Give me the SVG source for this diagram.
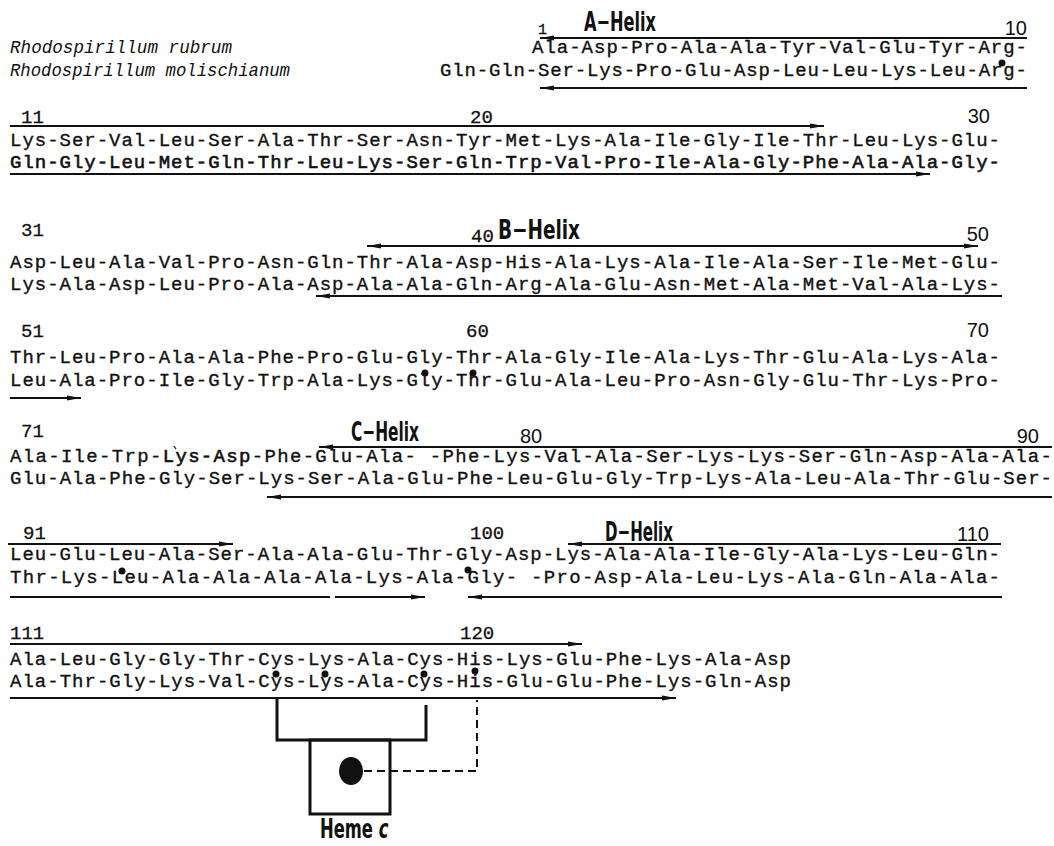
<svg xmlns="http://www.w3.org/2000/svg" width="1054" height="846" viewBox="0 0 1054 846">
<style>
.seq{font-family:"Liberation Mono","DejaVu Sans Mono",monospace;font-size:19px;fill:#111;stroke:#111;stroke-width:0.35}
.sp{font-family:"Liberation Mono","DejaVu Sans Mono",monospace;font-size:18px;font-style:italic;fill:#111}
.num{font-family:"Liberation Mono","DejaVu Sans Mono",monospace;font-size:19px;fill:#111;stroke:#111;stroke-width:0.3}
.num2{font-family:"Liberation Sans",Arial,sans-serif;font-size:20px;fill:#111}
.hx{font-family:"Liberation Sans Narrow","DejaVu Sans Condensed",sans-serif;font-weight:bold;font-size:27px;fill:#111}
.ln{stroke:#111;stroke-width:2;fill:none}
.br{stroke:#111;stroke-width:3;fill:none}
.dash{stroke:#111;stroke-width:2;fill:none;stroke-dasharray:8 5}
.dot{fill:#111}
.hv{stroke-width:0.6}
</style>
<defs>
<marker id="ah" viewBox="0 0 14 6" refX="14" refY="3" markerWidth="14" markerHeight="6" markerUnits="userSpaceOnUse" orient="auto-start-reverse"><path d="M0,0.5 L14,3 L0,5.5 z" fill="#111"/></marker>
</defs>

<g id="labels">
<text class="sp" x="10" y="53" textLength="222" lengthAdjust="spacingAndGlyphs">Rhodospirillum rubrum</text>
<text class="sp" x="10" y="76" textLength="280" lengthAdjust="spacingAndGlyphs">Rhodospirillum molischianum</text>
</g>

<g id="helix-labels">
<text class="hx" x="584" y="31" textLength="72" lengthAdjust="spacingAndGlyphs">A−Helix</text>
<text class="hx" x="498" y="239" textLength="82" lengthAdjust="spacingAndGlyphs">B−Helix</text>
<text class="hx" x="351" y="441" textLength="68" lengthAdjust="spacingAndGlyphs">C−Helix</text>
<text class="hx" x="605" y="541" textLength="68" lengthAdjust="spacingAndGlyphs">D−Helix</text>
</g>

<g id="numbers">
<text class="num" x="538" y="34" style="font-size:15px">1</text>
<text class="num2" x="1027" y="35" text-anchor="end">10</text>
<text class="num" x="21" y="123">11</text>
<text class="num" x="470" y="123">20</text>
<text class="num2" x="990" y="123" text-anchor="end">30</text>
<text class="num" x="21" y="236">31</text>
<text class="num" x="471" y="242">40</text>
<text class="num2" x="989" y="241" text-anchor="end">50</text>
<text class="num" x="21" y="337">51</text>
<text class="num" x="466" y="337">60</text>
<text class="num2" x="989" y="337" text-anchor="end">70</text>
<text class="num" x="21" y="437">71</text>
<text class="num2" x="520" y="443">80</text>
<text class="num2" x="1039" y="443" text-anchor="end">90</text>
<text class="num" x="23" y="539">91</text>
<text class="num" x="470" y="539">100</text>
<text class="num2" x="989" y="541" text-anchor="end">110</text>
<text class="num" x="10" y="639">111</text>
<text class="num" x="460" y="639">120</text>
</g>

<g id="row1">
<text class="seq" x="532" y="53" textLength="495" lengthAdjust="spacing">Ala-Asp-Pro-Ala-Ala-Tyr-Val-Glu-Tyr-Arg-</text>
<text class="seq" x="440" y="76" textLength="587" lengthAdjust="spacing">Gln-Gln-Ser-Lys-Pro-Glu-Asp-Leu-Leu-Lys-Leu-Arg-</text>
<circle class="dot" cx="1002" cy="63" r="3.5"/>
</g>

<g id="row2">
<text class="seq" x="10" y="146" textLength="990" lengthAdjust="spacing">Lys-Ser-Val-Leu-Ser-Ala-Thr-Ser-Asn-Tyr-Met-Lys-Ala-Ile-Gly-Ile-Thr-Leu-Lys-Glu-</text>
<text class="seq hv" x="10" y="168" textLength="990" lengthAdjust="spacing">Gln-Gly-Leu-Met-Gln-Thr-Leu-Lys-Ser-Gln-Trp-Val-Pro-Ile-Ala-Gly-Phe-Ala-Ala-Gly-</text>
</g>

<g id="row3">
<text class="seq" x="10" y="268" textLength="990" lengthAdjust="spacing">Asp-Leu-Ala-Val-Pro-Asn-Gln-Thr-Ala-Asp-His-Ala-Lys-Ala-Ile-Ala-Ser-Ile-Met-Glu-</text>
<text class="seq" x="10" y="290" textLength="990" lengthAdjust="spacing">Lys-Ala-Asp-Leu-Pro-Ala-Asp-Ala-Ala-Gln-Arg-Ala-Glu-Asn-Met-Ala-Met-Val-Ala-Lys-</text>
</g>

<g id="row4">
<text class="seq" x="10" y="363" textLength="990" lengthAdjust="spacing">Thr-Leu-Pro-Ala-Ala-Phe-Pro-Glu-Gly-Thr-Ala-Gly-Ile-Ala-Lys-Thr-Glu-Ala-Lys-Ala-</text>
<text class="seq" x="10" y="386" textLength="990" lengthAdjust="spacing">Leu-Ala-Pro-Ile-Gly-Trp-Ala-Lys-Gly-Thr-Glu-Ala-Leu-Pro-Asn-Gly-Glu-Thr-Lys-Pro-</text>
<circle class="dot" cx="425" cy="373" r="3.5"/>
<circle class="dot" cx="473" cy="373" r="3.5"/>
</g>

<g id="row5">
<text class="seq" x="10" y="462" textLength="1042" lengthAdjust="spacing">Ala-Ile-Trp-<tspan class="hv">Lys-Asp</tspan>-Phe-Glu-Ala-   -Phe-Lys-Val-Ala-Ser-Lys-Lys-Ser-Gln-Asp-Ala-Ala-</text>
<text class="seq" x="10" y="484" textLength="1042" lengthAdjust="spacing">Glu-Ala-Phe-Gly-Ser-Lys-Ser-Ala-Glu-Phe-Leu-Glu-Gly-Trp-Lys-Ala-Leu-Ala-Thr-Glu-Ser-</text>
<path class="ln" d="M174,446 l2,3" style="stroke-width:1.2"/>
</g>

<g id="row6">
<text class="seq" x="10" y="560" textLength="990" lengthAdjust="spacing">Leu-Glu-Leu-Ala-Ser-Ala-Ala-Glu-Thr-Gly-Asp-Lys-Ala-Ala-Ile-Gly-Ala-Lys-Leu-Gln-</text>
<text class="seq" x="10" y="583" textLength="990" lengthAdjust="spacing">Thr-Lys-Leu-Ala-Ala-Ala-Ala-Lys-Ala-Gly-   -Pro-Asp-Ala-Leu-Lys-Ala-Gln-Ala-Ala-</text>
<circle class="dot" cx="122" cy="571" r="3.5"/>
<circle class="dot" cx="468" cy="570" r="3.5"/>
</g>

<g id="row7">
<text class="seq" x="10" y="665" textLength="781" lengthAdjust="spacing">Ala-Leu-Gly-Gly-Thr-Cys-Lys-Ala-Cys-His-Lys-Glu-Phe-Lys-Ala-Asp</text>
<text class="seq" x="10" y="687" textLength="781" lengthAdjust="spacing">Ala-Thr-Gly-Lys-Val-Cys-Lys-Ala-Cys-His-Glu-Glu-Phe-Lys-Gln-Asp</text>
<circle class="dot" cx="276" cy="674" r="3.5"/>
<circle class="dot" cx="325" cy="674" r="3.5"/>
<circle class="dot" cx="424" cy="674" r="3.5"/>
<circle class="dot" cx="475" cy="671" r="3.5"/>
</g>

<g id="connectors">
<line class="ln" x1="540" y1="38" x2="1027" y2="38" marker-start="url(#ah)"/>
<line class="ln" x1="540" y1="88" x2="1027" y2="88" marker-start="url(#ah)"/>
<line class="ln" x1="10" y1="126" x2="824" y2="126" marker-end="url(#ah)"/>
<line class="ln" x1="10" y1="174" x2="930" y2="174" marker-end="url(#ah)"/>
<line class="ln" x1="367" y1="246" x2="978" y2="246" marker-start="url(#ah)" marker-end="url(#ah)"/>
<line class="ln" x1="316" y1="296" x2="1002" y2="296" marker-start="url(#ah)"/>
<line class="ln" x1="10" y1="398" x2="81" y2="398" marker-end="url(#ah)"/>
<line class="ln" x1="319" y1="447" x2="1052" y2="447" marker-start="url(#ah)"/>
<line class="ln" x1="267" y1="497" x2="1052" y2="497" marker-start="url(#ah)"/>
<line class="ln" x1="8" y1="544" x2="233" y2="544" marker-end="url(#ah)"/>
<line class="ln" x1="568" y1="544" x2="1001" y2="544" marker-start="url(#ah)"/>
<line class="ln" x1="10" y1="597" x2="330" y2="597"/>
<line class="ln" x1="335" y1="597" x2="425" y2="597" marker-end="url(#ah)"/>
<line class="ln" x1="468" y1="597" x2="1002" y2="597" marker-start="url(#ah)"/>
<line class="ln" x1="10" y1="644" x2="582" y2="644" marker-end="url(#ah)"/>
<line class="ln" x1="10" y1="698" x2="676" y2="698" marker-end="url(#ah)"/>
<path class="br" d="M277,698 V740 H426 V705"/>
<path class="dash" d="M364,771 H477 V700"/>
</g>

<g id="heme">
<rect class="br" x="310" y="740" width="80" height="74"/>
<ellipse class="dot" cx="351" cy="771" rx="12" ry="14"/>
<text class="hx" transform="translate(320,838) scale(0.7,1)" x="0" y="0" style="font-size:26px">Heme <tspan font-style="italic">c</tspan></text>
</g>
</svg>
